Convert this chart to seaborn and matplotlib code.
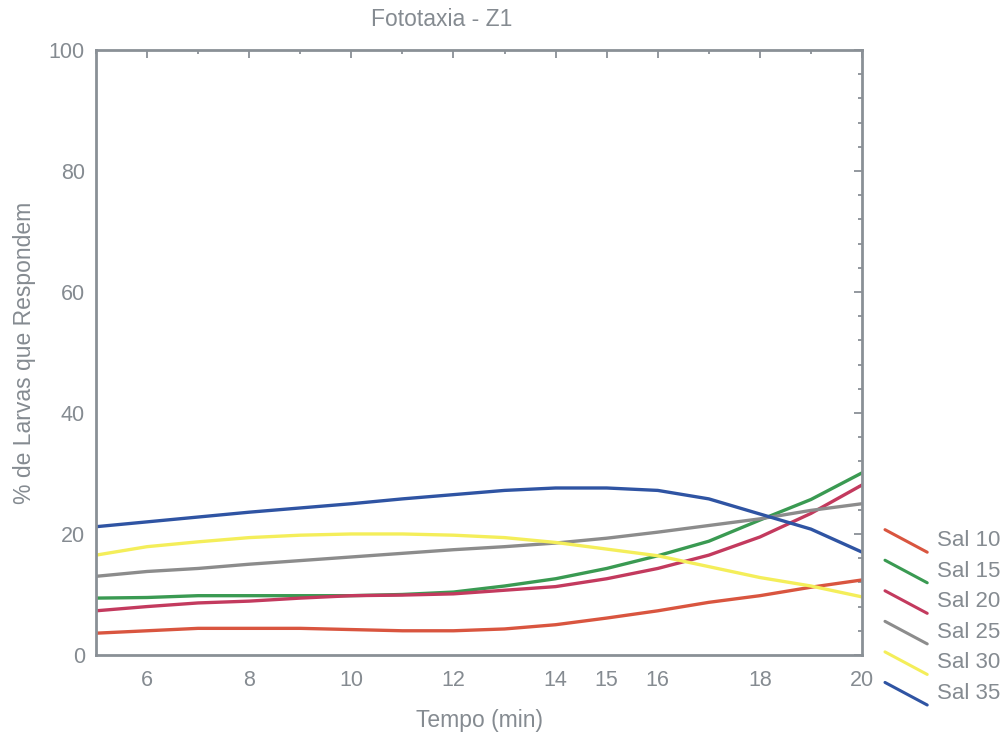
import numpy as np
import pandas as pd
import matplotlib
matplotlib.use("Agg")
import matplotlib.pyplot as plt
import seaborn as sns
from matplotlib.legend_handler import HandlerBase
from matplotlib.lines import Line2D
from matplotlib.ticker import MultipleLocator

# data
tempo = [5, 6, 7, 8, 9, 10, 11, 12, 13, 14, 15, 16, 17, 18, 19, 20]
sal_10 = [3.6, 4.0, 4.4, 4.4, 4.4, 4.2, 4.0, 4.0, 4.3, 5.0, 6.1, 7.3, 8.7, 9.8, 11.2, 12.4]
sal_15 = [9.4, 9.5, 9.8, 9.8, 9.8, 9.8, 10.0, 10.4, 11.4, 12.6, 14.3, 16.4, 18.8, 22.3, 25.7, 30.1]
sal_20 = [7.3, 8.0, 8.6, 8.9, 9.4, 9.8, 9.9, 10.1, 10.7, 11.3, 12.6, 14.3, 16.5, 19.5, 23.4, 28.1]
sal_25 = [13.0, 13.8, 14.3, 15.0, 15.6, 16.2, 16.8, 17.4, 17.9, 18.5, 19.3, 20.3, 21.4, 22.5, 23.9, 25.0]
sal_30 = [16.5, 17.9, 18.7, 19.4, 19.8, 20.0, 20.0, 19.8, 19.4, 18.6, 17.5, 16.4, 14.6, 12.8, 11.4, 9.6]
sal_35 = [21.2, 22.0, 22.8, 23.6, 24.3, 25.0, 25.8, 26.5, 27.2, 27.6, 27.6, 27.2, 25.8, 23.3, 20.8, 17.0]

series_names = ["Sal 10", "Sal 15", "Sal 20", "Sal 25", "Sal 30", "Sal 35"]
series_colors = ["#d9553f", "#3a9a52", "#c33a5e", "#8c8c8c", "#f4ee5a", "#2f54a3"]
x_ticks = [6, 8, 10, 12, 14, 15, 16, 18, 20]
y_ticks = [0, 20, 40, 60, 80, 100]

TXT = "#858b91"

df = pd.DataFrame({
    "tempo": tempo * 6,
    "valor": sal_10 + sal_15 + sal_20 + sal_25 + sal_30 + sal_35,
    "serie": np.repeat(series_names, len(tempo)),
})

sns.set_style("white")
plt.rcParams["font.family"] = ["Liberation Sans", "DejaVu Sans"]


class DiagonalHandler(HandlerBase):
    """Legend key drawn as a line sloping down to the right."""
    def create_artists(self, legend, orig_handle, xdescent, ydescent,
                       width, height, fontsize, trans):
        line = Line2D([0, width], [height * 1.05, -height * 0.4],
                      color=orig_handle.get_color(), lw=2.2,
                      transform=trans)
        return [line]


fig = plt.figure(figsize=(10.08, 7.37), dpi=100)
ax = fig.add_axes([0.0952, 0.1113, 0.7600, 0.8209])

sns.lineplot(data=df, x="tempo", y="valor", hue="serie",
             palette=dict(zip(series_names, series_colors)),
             linewidth=2.4, ax=ax, legend=False)

ax.set_xlim(5, 20)
ax.set_ylim(0, 100)
ax.set_xticks(x_ticks)
ax.set_yticks(y_ticks)
ax.xaxis.set_minor_locator(MultipleLocator(1))
ax.yaxis.set_minor_locator(MultipleLocator(4))
ax.tick_params(which="both", direction="in", top=True, right=True,
               color="#8a9096", width=1.3, labelcolor=TXT, labelsize=15.5)
ax.tick_params(axis="x", which="major", pad=11)
ax.tick_params(axis="y", which="major", pad=8)
ax.tick_params(which="major", length=6)
ax.tick_params(which="minor", length=3)
for sp in ax.spines.values():
    sp.set_color("#8a9096")
    sp.set_linewidth(2)

ax.set_xlabel("Tempo (min)", color=TXT, fontsize=16.5, labelpad=13)
ax.set_ylabel("% de Larvas que Respondem", color=TXT, fontsize=16.5, labelpad=9)
fig.text(442 / 1008, 1 - 19 / 737, "Fototaxia - Z1", color=TXT, fontsize=16.5,
         ha="center", va="center")

handles = [Line2D([], [], color=c) for c in series_colors]
leg = fig.legend(handles, series_names, loc="upper left",
                 bbox_to_anchor=(885 / 1008, 1 - 530 / 737),
                 frameon=False, fontsize=16, handler_map={Line2D: DiagonalHandler()},
                 handlelength=1.9, handletextpad=0.45, labelspacing=0.43,
                 borderaxespad=0, borderpad=0)
for t in leg.get_texts():
    t.set_color(TXT)

fig.savefig("out.png", dpi=100)
